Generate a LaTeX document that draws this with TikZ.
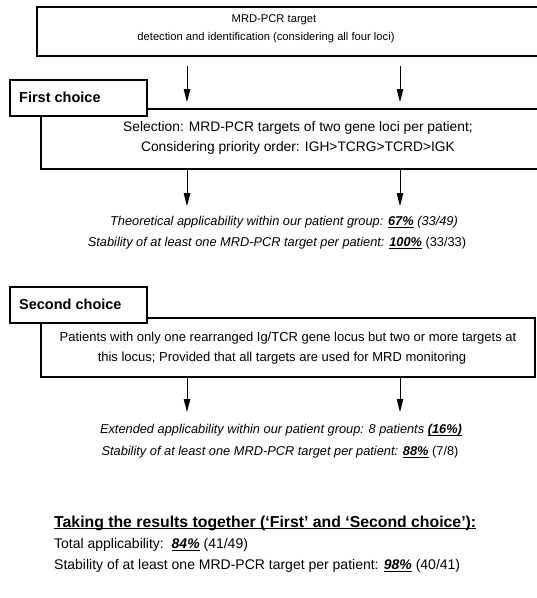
\documentclass[tikz,border=0pt]{standalone}
\usepackage{fontspec}
\setmainfont{Liberation Sans}
\usetikzlibrary{arrows.meta}
\newcommand\myul[1]{\setbox0\hbox{#1}\rlap{\rule[-2.3pt]{\wd0}{1.1pt}}\box0\relax}
\begin{document}
\begin{tikzpicture}[x=1pt,y=-1pt,
  box/.style={line width=1.1pt},
  labbox/.style={line width=1.9pt,fill=white},
  arr/.style={line width=0.9pt,-{Triangle[length=13pt,width=6.5pt]}},
  txt/.style={inner sep=0pt,align=center},
  ftop/.style={font=\fontsize{11.2}{13}\selectfont},
  fsel/.style={font=\fontsize{13.8}{16}\selectfont},
  fres/.style={font=\fontsize{12.8}{15}\selectfont\itshape},
  fbox/.style={font=\fontsize{13}{16}\selectfont},
  fbot/.style={font=\fontsize{14}{16}\selectfont},
  flab/.style={font=\fontsize{14.5}{16}\selectfont\bfseries}]
\useasboundingbox (0,0) rectangle (537,598);
\fill[white] (0,0) rectangle (537,598);
% top box
\draw[box] (537,7) -- (37,7) -- (37,56) -- (537,56);
\node[txt,ftop] (t1) at (274,20) {MRD-PCR target};
\node[txt,ftop] (t2) at (266,38) {detection and identification (considering all four loci)};
% first choice selection box
\draw[box] (537,109) -- (41,109) -- (41,169) -- (537,169);
\draw[labbox] (10,80) rectangle (147,116);
\node[anchor=west,inner sep=0pt,flab] (fc) at (19,97) {First choice};
\node[txt,fsel] (s1) at (298,128) {Selection: MRD-PCR targets of two gene loci per patient;};
\node[txt,fsel] (s2) at (298,148) {Considering priority order: IGH>TCRG>TCRD>IGK};
% arrows 1
\coordinate (a1s) at (187,66); \coordinate (a1e) at (187,102);
\coordinate (a2s) at (400,66); \coordinate (a2e) at (400,102);
\draw[arr] (a1s) -- (a1e);
\draw[arr] (a2s) -- (a2e);
% arrows 2
\coordinate (b1s) at (187,169); \coordinate (b1e) at (187,206);
\coordinate (b2s) at (400,169); \coordinate (b2e) at (400,206);
\draw[arr] (b1s) -- (b1e);
\draw[arr] (b2s) -- (b2e);
% results 1
\node[txt,fres] (r1) at (284,222) {Theoretical applicability within our patient group: \myul{\bfseries 67\%} (33/49)};
\node[txt,fres] (r2) at (277,243) {Stability of at least one MRD-PCR target per patient: \myul{\bfseries 100\%} \upshape(33/33)};
% second choice
\draw[box] (41,318) rectangle (535,377);
\draw[labbox] (10,287) rectangle (147,323);
\node[anchor=west,inner sep=0pt,flab] (sc) at (19,304) {Second choice};
\node[txt,fbox] (p1) at (288,338) {Patients with only one rearranged Ig/TCR gene locus but two or more targets at};
\node[txt,fbox] (p2) at (282,358) {this locus; Provided that all targets are used for MRD monitoring};
% arrows 3
\coordinate (c1s) at (187,377); \coordinate (c1e) at (187,412);
\coordinate (c2s) at (400,377); \coordinate (c2e) at (400,412);
\draw[arr] (c1s) -- (c1e);
\draw[arr] (c2s) -- (c2e);
% results 2
\node[txt,fres] (e1) at (281,430) {Extended applicability within our patient group: 8 patients \myul{\bfseries(16\%)}};
\node[txt,fres] (e2) at (280,452) {Stability of at least one MRD-PCR target per patient: \myul{\bfseries 88\%} \upshape(7/8)};
% bottom
\node[anchor=west,inner sep=0pt,font=\fontsize{15.8}{18}\selectfont\bfseries] (k1) at (54,523) {\myul{Taking the results together (‘First’ and ‘Second choice’):}};
\node[anchor=west,inner sep=0pt,fbot] (k2) at (54,545) {Total applicability:\ \ \myul{\bfseries\itshape 84\%} (41/49)};
\node[anchor=west,inner sep=0pt,fbot] (k3) at (54,566) {Stability of at least one MRD-PCR target per patient: \myul{\bfseries\itshape 98\%} (40/41)};
\end{tikzpicture}
\end{document}
